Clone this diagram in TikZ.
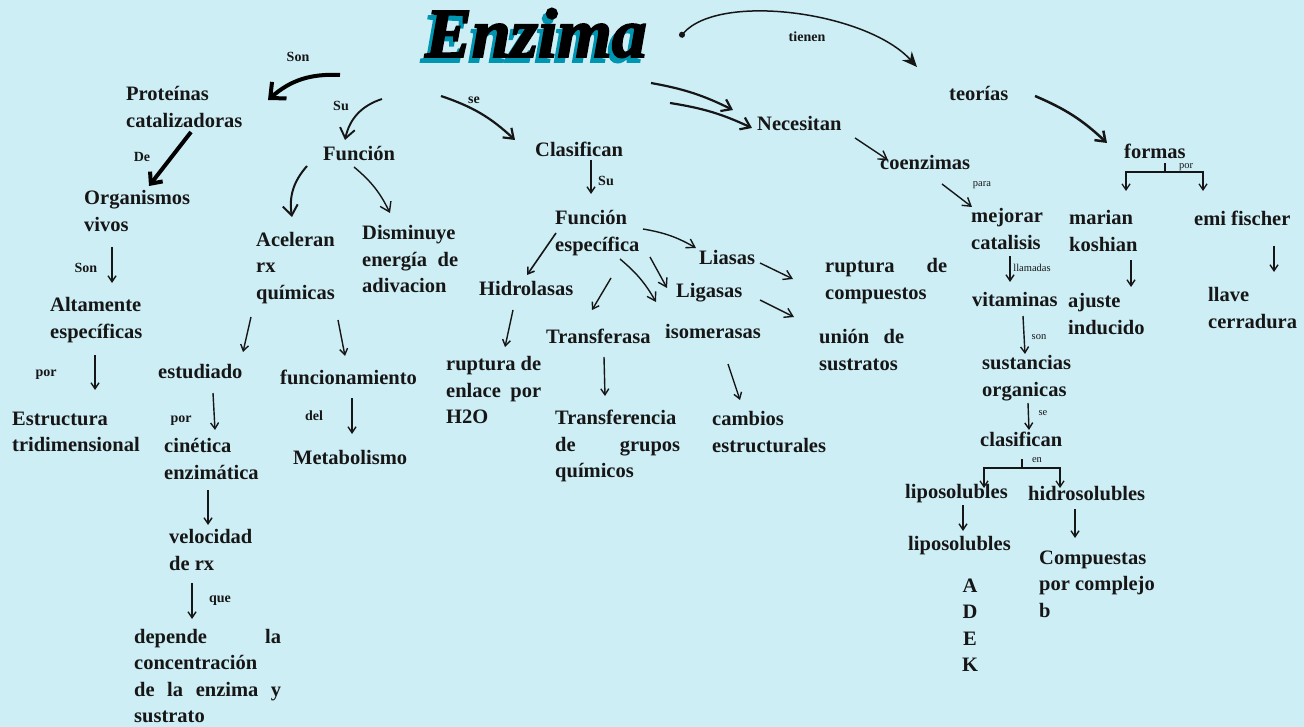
\documentclass[tikz,border=0pt]{standalone}
\usepackage{fontspec}
\setmainfont{Liberation Serif}
\newfontfamily\titulofont[BoldItalicFeatures={FakeBold=2.5}]{Liberation Serif}
\usepackage{tikz}
\usetikzlibrary{arrows.meta}
\definecolor{fondo}{RGB}{206,238,246}
\definecolor{tealsombra}{RGB}{0,150,178}
\definecolor{tinta}{RGB}{22,22,22}
\hyphenpenalty=10000
\tikzset{
  titulo/.style={
    inner sep=0pt,
    font=\titulofont\bfseries\itshape\fontsize{70}{70}\selectfont
  },
  concepto/.style={
    anchor=west,
    inner sep=0pt,
    align=left,
    text=tinta,
    font=\fontsize{20.5}{26.5}\selectfont\bfseries
  },
  etiqueta/.style={
    inner sep=0pt,
    text=tinta,
    font=\fontsize{14}{16}\selectfont\bfseries
  },
  nota/.style={
    inner sep=0pt,
    text=tinta,
    font=\fontsize{10.5}{12}\selectfont
  },
  flecha/.style={
    -{Straight Barb[length=6pt,width=8pt]},
    line width=1.4pt,
    draw=tinta
  },
  flechamedia/.style={
    -{Straight Barb[length=9pt,width=13pt]},
    line width=2.2pt,
    draw=tinta
  },
  flechagruesa/.style={
    -{Straight Barb[length=12pt,width=22pt]},
    line width=4pt,
    draw=black
  }
}

\begin{document}
\begin{tikzpicture}[x=1pt, y=-1pt]
\path[use as bounding box, fill=fondo] (0,0) rectangle (1304,727);
\node[titulo, text=tealsombra] (sombra) at (532,38) {Enzima};
\node[titulo, text=black] (tit) at (536,33) {Enzima};

\node[concepto] (prot) at (126,107) {Proteínas\\catalizadoras};
\node[concepto] (org) at (84,211) {Organismos\\vivos};
\node[concepto] (alt) at (50,320) {Altamente\\específicas};
\node[concepto] (estr) at (12,432) {Estructura\\tridimensional};
\node[concepto] (fun) at (323,154) {Función};
\node[concepto] (acel) at (256,268) {Aceleran\\rx\\químicas};
\node[concepto, text width=96pt] (dism) at (362,259) {Disminuye\\energía\hfill de\\adivacion};
\node[concepto] (estu) at (158,372) {estudiado};
\node[concepto] (func) at (280,377) {funcionamiento};
\node[concepto] (cin) at (164,459) {cinética\\enzimática};
\node[concepto] (meta) at (293,457) {Metabolismo};
\node[concepto] (vel) at (169,550) {velocidad\\de rx};
\node[concepto, text width=147pt] (dep) at (134,676) {depende\hfill la\\concentración\\de\hfill la\hfill enzima\hfill y\\sustrato};

\node[concepto] (clas) at (535,149) {Clasifican};
\node[concepto] (fesp) at (555,233) {Función\\específica};
\node[concepto] (hidr) at (479,288) {Hidrolasas};
\node[concepto] (lias) at (699,257) {Liasas};
\node[concepto] (liga) at (676,293) {Ligasas};
\node[concepto] (trans) at (546,336) {Transferasa};
\node[concepto] (isom) at (665,331) {isomerasas};
\node[concepto, text width=95pt] (rupH) at (446,390) {ruptura\hfill de\\enlace\hfill por\\H2O};
\node[concepto, text width=125pt] (trf) at (555,446) {Transferencia\\de\hfill grupos\\químicos};
\node[concepto] (camb) at (712,432) {cambios\\estructurales};
\node[concepto, text width=122pt] (rupC) at (825,281) {ruptura\hfill de\\compuestos};
\node[concepto, text width=85pt] (union) at (819,350) {unión\hfill de\\sustratos};

\node[concepto] (nec) at (757,123) {Necesitan};
\node[concepto] (coen) at (880,162) {coenzimas};
\node[concepto] (mej) at (971,229) {mejorar\\catalisis};
\node[concepto] (vit) at (972,299) {vitaminas};
\node[concepto] (sust) at (982,378) {sustancias\\organicas};
\node[concepto] (clas2) at (980,439) {clasifican};
\node[concepto] (lipo) at (905,494) {liposolubles};
\node[concepto] (hidro) at (1028,494) {hidrosolubles};
\node[concepto] (lipo2) at (908,546) {liposolubles};
\node[concepto, anchor=center, align=center] (adek) at (970,625) {A\\D\\E\\K};
\node[concepto] (comp) at (1039,584) {Compuestas\\por complejo\\b};

\node[concepto] (teo) at (949,93) {teorías};
\node[concepto] (form) at (1124,151) {formas};
\node[concepto] (mar) at (1069,231) {marian\\koshian};
\node[concepto] (emi) at (1194,218) {emi fischer};
\node[concepto] (aju) at (1068,314) {ajuste\\inducido};
\node[concepto] (llave) at (1208,308) {llave\\cerradura};

\node[etiqueta] (eSon) at (298,57) {Son};
\node[etiqueta] (eSu) at (341,106) {Su};
\node[etiqueta] (eSe) at (474,100) {se};
\node[etiqueta] (eDe) at (142,157) {De};
\node[etiqueta] (eSon2) at (86,268) {Son};
\node[etiqueta] (ePor) at (46,375) {por};
\node[etiqueta] (ePor2) at (181,421) {por};
\node[etiqueta] (eDel) at (314,416) {del};
\node[etiqueta] (eQue) at (220,601) {que};
\node[etiqueta] (eTienen) at (807,37) {tienen};
\node[etiqueta] (eSu2) at (606,181) {Su};
\node[nota] (nPara) at (982,185) {para};
\node[nota] (nLlam) at (1032,268) {llamadas};
\node[nota] (nSon) at (1039,337) {son};
\node[nota] (nSe) at (1043,413) {se};
\node[nota] (nEn) at (1037,460) {en};
\node[nota] (nPor) at (1186,167) {por};

\draw[flechagruesa] ([shift={(-196,42)}]tit.center) to[bend right=22] ([shift={(142,-7)}]prot.west);
\draw[flechamedia, line width=1.9pt, -{Straight Barb[length=10pt,width=15pt]}] ([shift={(-154,66)}]tit.center) to[bend right=30] ([shift={(22,-14)}]fun.west);
\draw[flechamedia] ([shift={(-95,63)}]tit.center) to[bend left=12] ([shift={(-20,-9)}]clas.west);
\draw[flechamedia] ([shift={(115,50)}]tit.center) to[bend left=8] ([shift={(-24,-13)}]nec.west);
\draw[flechamedia] ([shift={(134,70)}]tit.center) to[bend left=8] ([shift={(-5,5)}]nec.west);
\draw[line width=1.5pt, draw=tinta, {Circle[length=6pt]}-{Stealth[length=15pt,width=13pt]}] ([shift={(144,4)}]tit.center) .. controls +(40,-45) and +(-50,-55) .. ([shift={(-32,-26)}]teo.west);
\draw[flechamedia, line width=2.5pt] ([shift={(86,3)}]teo.west) to[bend left=10] ([shift={(-17,-8)}]form.west);

\draw[flechagruesa, -{Straight Barb[length=9pt,width=16pt]}] ([shift={(65,25)}]prot.west) -- ([shift={(65,-25)}]org.west);
\draw[flecha] ([shift={(28,36)}]org.west) -- ([shift={(62,-37)}]alt.west);
\draw[flecha] ([shift={(45,35)}]alt.west) -- ([shift={(83,-42)}]estr.west);
\draw[flechamedia, line width=2pt, -{Straight Barb[length=10pt,width=15pt]}] ([shift={(-16,12)}]fun.west) to[bend right=25] ([shift={(36,-51)}]acel.west);
\draw[flecha, -{Straight Barb[length=9pt,width=12pt]}] ([shift={(31,13)}]fun.west) to[bend left=12] ([shift={(28,-46)}]dism.west);
\draw[flecha] ([shift={(-5,49)}]acel.west) -- ([shift={(85,-20)}]estu.west);
\draw[flecha] ([shift={(82,52)}]acel.west) -- ([shift={(65,-21)}]func.west);
\draw[flecha] ([shift={(55,21)}]estu.west) -- ([shift={(51,-29)}]cin.west);
\draw[flecha] ([shift={(72,21)}]func.west) -- ([shift={(59,-23)}]meta.west);
\draw[flecha] ([shift={(44,31)}]cin.west) -- ([shift={(39,-25)}]vel.west);
\draw[flecha] ([shift={(23,33)}]vel.west) -- ([shift={(58,-57)}]dep.west);

\draw[flecha] ([shift={(56,11)}]clas.west) -- ([shift={(36,-39)}]fesp.west);
\draw[flecha, line width=1.6pt] ([shift={(1,0)}]fesp.west) -- ([shift={(48,-13)}]hidr.west);
\draw[flecha, -{Straight Barb[length=8pt,width=10pt]}] ([shift={(88,-4)}]fesp.west) to[bend left=10] ([shift={(-3,-9)}]lias.west);
\draw[flecha, -{Straight Barb[length=8pt,width=10pt]}] ([shift={(95,24)}]fesp.west) -- ([shift={(-9,-5)}]liga.west);
\draw[flecha, -{Straight Barb[length=8pt,width=10pt]}] ([shift={(65,26)}]fesp.west) to[bend left=10] ([shift={(-9,-29)}]isom.west);
\draw[flecha] ([shift={(56,45)}]fesp.west) -- ([shift={(46,-26)}]trans.west);
\draw[flecha] ([shift={(34,22)}]hidr.west) -- ([shift={(59,-43)}]rupH.west);
\draw[flecha] ([shift={(58,21)}]trans.west) -- ([shift={(50,-50)}]trf.west);
\draw[flecha] ([shift={(63,33)}]isom.west) -- ([shift={(28,-32)}]camb.west);
\draw[flecha, -{Straight Barb[length=8pt,width=10pt]}] ([shift={(61,6)}]lias.west) -- ([shift={(-32,-2)}]rupC.west);
\draw[flecha, -{Straight Barb[length=8pt,width=10pt]}] ([shift={(84,7)}]liga.west) -- ([shift={(-25,-33)}]union.west);

\draw[flecha, -{Straight Barb[length=8pt,width=10pt]}] ([shift={(98,15)}]nec.west) -- ([shift={(8,-2)}]coen.west);
\draw[flecha, -{Straight Barb[length=8pt,width=10pt]}] ([shift={(62,22)}]coen.west) -- ([shift={(1,-22)}]mej.west);
\draw[flecha] ([shift={(39,27)}]mej.west) -- ([shift={(38,-17)}]vit.west);
\draw[flecha] ([shift={(51,17)}]vit.west) -- ([shift={(43,-24)}]sust.west);
\draw[flecha] ([shift={(46,25)}]sust.west) -- ([shift={(49,-9)}]clas2.west);
\draw[flecha, line width=1.3pt] ([shift={(42,20)}]clas2.west) -- ++(0,9) coordinate (jLip) -| ([shift={(79,-6)}]lipo.west);
\draw[flecha, line width=1.3pt] (jLip) -| ([shift={(32,-6)}]hidro.west);
\draw[flecha] ([shift={(58,11)}]lipo.west) -- ([shift={(55,-15)}]lipo2.west);
\draw[flecha] ([shift={(47,15)}]hidro.west) -- ([shift={(36,-46)}]comp.west);

\draw[flecha, line width=1.3pt] ([shift={(41,12)}]form.west) -- ++(0,9) coordinate (jFor) -| ([shift={(57,-40)}]mar.west);
\draw[flecha, line width=1.3pt] (jFor) -| ([shift={(9,-27)}]emi.west);
\draw[flecha] ([shift={(62,29)}]mar.west) -- ([shift={(63,-27)}]aju.west);
\draw[flecha] ([shift={(80,28)}]emi.west) -- ([shift={(66,-36)}]llave.west);
\end{tikzpicture}
\end{document}
